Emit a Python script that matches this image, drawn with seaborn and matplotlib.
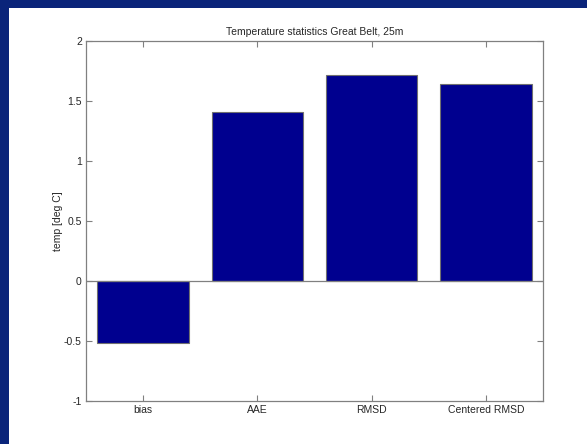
import matplotlib
matplotlib.use("Agg")
import matplotlib.pyplot as plt
import matplotlib.patches as mpatches
import seaborn as sns
import pandas as pd

categories = ["bias", "AAE", "RMSD", "Centered RMSD"]
values = [-0.515, 1.41, 1.72, 1.645]
yticks = [-1, -0.5, 0, 0.5, 1, 1.5, 2]
yticklabels = ["-1", "-0.5", "0", "0.5", "1", "1.5", "2"]

sns.set_style("white")
plt.rcParams["font.family"] = ["Liberation Sans", "DejaVu Sans"]

W, H = 587, 444
fig = plt.figure(figsize=(W / 100, H / 100), dpi=100)
fig.patch.set_facecolor("#0a247a")
fig.patches.append(mpatches.Rectangle((9 / W, 0), 1 - 9 / W, (H - 8) / H,
                                      transform=fig.transFigure,
                                      facecolor="white", edgecolor="none", zorder=-10))

ax = fig.add_axes([86 / W, (H - 401) / H, 457 / W, 360 / H])
df = pd.DataFrame({"cat": categories, "val": values})
sns.barplot(data=df, x="cat", y="val", color="#00008f", saturation=1,
            width=0.8, edgecolor="#707070", linewidth=0.8, ax=ax)
ax.set_xlim(-0.5, len(categories) - 0.5)
ax.set_ylim(-1, 2)
ax.axhline(0, color="#808080", linewidth=0.9, zorder=5)
ax.set_yticks(yticks)
ax.set_yticklabels(yticklabels)
ax.set_xlabel("")
ax.set_ylabel("temp [deg C]", fontsize=7.5, labelpad=1)
ax.set_title("Temperature statistics Great Belt, 25m", fontsize=7.5, pad=4)
ax.tick_params(direction="in", length=4, width=0.8, color="#808080",
               labelsize=7.5, top=True, right=True, bottom=True, left=True,
               labeltop=False, labelright=False, pad=3)
for s in ax.spines.values():
    s.set_color("#808080")
    s.set_linewidth(0.9)
    s.set_visible(True)

fig.savefig("out.png", dpi=100, facecolor=fig.get_facecolor())
